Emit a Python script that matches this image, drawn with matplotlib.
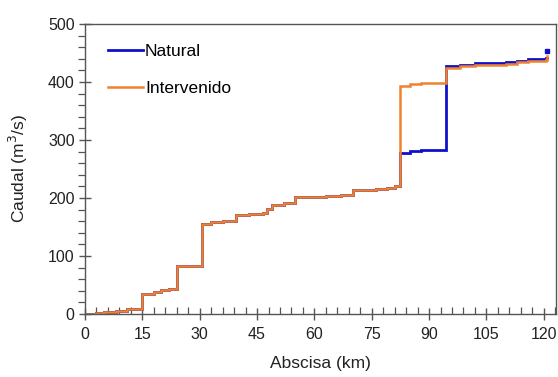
import matplotlib
matplotlib.use("Agg")
import matplotlib.pyplot as plt
from matplotlib.ticker import MultipleLocator

plt.rcParams['font.family'] = ['Liberation Sans', 'DejaVu Sans']

# Abscisa (km) and caudal (m3/s) breakpoints, held constant until the next abscisa
abscisa_comun = [0, 3, 5, 8, 11, 13, 15, 18, 20, 22, 24, 30.5, 33, 36, 39.5,
                 43, 46.5, 47.5, 49, 52, 55, 59, 63, 67, 70, 73, 76, 79, 81]
caudal_comun = [0, 1, 4, 6, 8, 9, 35, 38, 41, 43, 82, 156, 158, 160, 171,
                172, 175, 181, 188, 191, 201, 202, 203, 205, 213, 214, 216, 218, 220]

abscisa_final = [82.4, 85, 88, 91, 94.5, 98, 102, 106, 110, 113, 116, 120.5, 120.8]
caudal_natural_final = [278, 281, 282, 283, 428, 430, 432, 433, 434, 437, 440, 442, 442]
caudal_intervenido_final = [393, 397, 398, 399, 425, 427, 429, 430, 431, 434, 436, 438, 444]

abscisa = abscisa_comun + abscisa_final
caudal_natural = caudal_comun + caudal_natural_final
caudal_intervenido = caudal_comun + caudal_intervenido_final

caudal_natural_salida = 454  # value at the outlet

fig = plt.figure(figsize=(5.58, 3.77), dpi=100)
ax = fig.add_axes([85 / 558, 1 - 314 / 377, 471 / 558, 290 / 377])

azul = '#1010CC'
naranja = '#F0822E'

ax.plot(abscisa, caudal_natural, drawstyle='steps-post', color=azul, lw=2.0,
        label='Natural', solid_joinstyle='miter')
ax.plot(abscisa, caudal_intervenido, drawstyle='steps-post', color=naranja, lw=1.8,
        label='Intervenido', solid_joinstyle='miter')
ax.plot([abscisa[-1]], [caudal_natural_salida], 's', color=azul, ms=2.5)

ax.set_xlim(0, 123.2)
ax.set_ylim(0, 500)
ax.xaxis.set_major_locator(MultipleLocator(15))
ax.xaxis.set_minor_locator(MultipleLocator(3))
ax.yaxis.set_major_locator(MultipleLocator(100))
ax.yaxis.set_minor_locator(MultipleLocator(20))

grisejes = '#555555'
for s in ax.spines.values():
    s.set_color(grisejes)
    s.set_linewidth(1.0)

ax.tick_params(axis='both', which='major', direction='inout', length=9, width=1.0,
               color=grisejes, labelsize=11.5, labelcolor='#222222')
ax.tick_params(axis='x', which='major', pad=5)
ax.tick_params(axis='y', which='major', pad=3)
ax.tick_params(axis='x', which='minor', direction='in', length=5, width=0.9, color=grisejes)
ax.tick_params(axis='y', which='minor', direction='out', length=5, width=0.9, color=grisejes)

ax.set_xlabel('Abscisa (km)', fontsize=12.5, color='#222222', labelpad=10)
ax.set_ylabel('Caudal (m$^3$/s)', fontsize=12.5, color='#222222', labelpad=13)

leg = ax.legend(loc='upper left', bbox_to_anchor=(0.035, 0.955), frameon=False,
                fontsize=12.5, handlelength=2.0, handletextpad=0.1, labelspacing=1.25,
                borderaxespad=0.0)

fig.savefig('out.png', dpi=100)
